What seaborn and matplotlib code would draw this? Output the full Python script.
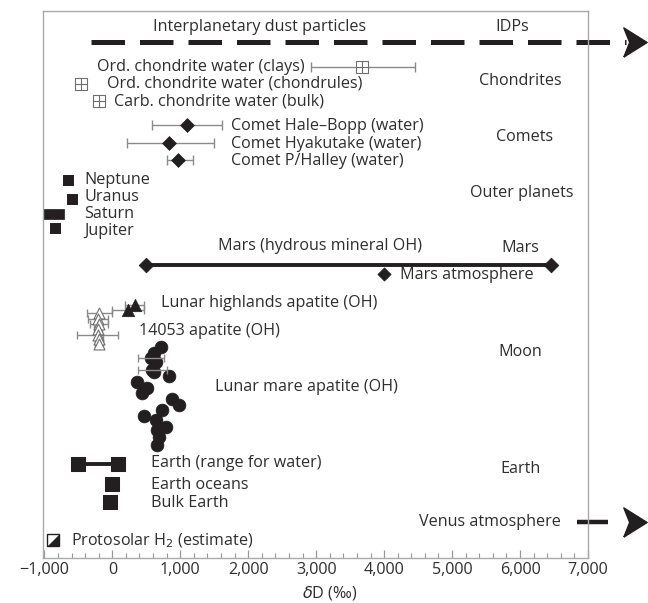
import numpy as np
import pandas as pd
import seaborn as sns
import matplotlib.pyplot as plt
from matplotlib.ticker import MultipleLocator, FuncFormatter

# ---------------- data (δD in ‰) ----------------
# vertical row positions are layout (top = small numbers)
idp_start = -310
idp_row = 42

chond_names = ["Ord. chondrite water (clays)", "Ord. chondrite water (chondrules)",
               "Carb. chondrite water (bulk)"]
chond_dD = [3680, -460, -200]
chond_lo = [2930, np.nan, np.nan]
chond_hi = [4460, np.nan, np.nan]
chond_row = [67, 84, 101]

comet_names = ["Comet Hale–Bopp (water)", "Comet Hyakutake (water)", "Comet P/Halley (water)"]
comet_dD = [1100, 840, 970]
comet_lo = [590, 220, 800]
comet_hi = [1620, 1500, 1180]
comet_row = [125, 143, 160]

planet_names = ["Neptune", "Uranus", "Saturn", "Jupiter"]
planet_min = [-650, -595, -930, -840]
planet_max = [-650, -595, -780, -840]
planet_row = [180, 199, 214, 228]

mars_range = [500, 6450]
mars_row = 265
mars_atm = 4000
mars_atm_row = 274

highland_dD = [230, 330]
highland_err = [230, 140]
highland_row = [310, 305]

a14053_dD = [-190, -210, -200, -205, -215, -200, -200]
a14053_err = [185, 150, 130, 60, 300, 60, 60]
a14053_row = [313, 319, 324, 329, 335, 339, 344]

mare_dD = [722, 619, 574, 648, 589, 619, 840, 368, 515, 442, 884, 987, 736, 471, 648, 795, 663, 692, 663]
mare_err = [0, 0, 190, 0, 210, 0, 0, 0, 0, 0, 0, 0, 0, 0, 0, 0, 0, 0, 0]
mare_row = [347, 353, 358, 362, 370, 372, 376, 382, 388, 393, 399, 405, 410, 416, 420, 427, 430, 437, 445]

earth_range = [-500, 90]
earth_range_row = 464
earth_oceans = 0
earth_oceans_row = 484
bulk_earth = -40
bulk_earth_row = 502

protosolar = -880
protosolar_row = 540

venus_start = 6840
venus_row = 522

group_labels = ["IDPs", "Chondrites", "Comets", "Outer planets", "Mars", "Moon", "Earth"]
group_rows = [27, 81, 137, 193, 248, 352, 469]

xticks = [-1000, 0, 1000, 2000, 3000, 4000, 5000, 6000, 7000]

# ---------------- style ----------------
sns.set_style("white")
plt.rcParams['font.family'] = ['Open Sans', 'DejaVu Sans']
INK = '#231f20'
TXT = '#2e2e2e'
ERR = '#8a8a8a'
FS = 11.6

fig = plt.figure(figsize=(6.48, 6.03), dpi=100)
ax = fig.add_axes([43/648, 1-558/603, 545/648, 547/603])
ax.set_xlim(-1020, 7000)
ax.set_ylim(558, 11)

# IDP dashed line with arrow
ax.plot([idp_start, 7560], [idp_row, idp_row], color=INK, lw=3.6, dashes=(6.7, 3.0),
        solid_capstyle='butt', dash_capstyle='butt', clip_on=False)
arrow = [(-0.8, -1), (0.8, 0), (-0.8, 1), (-0.4, 0), (-0.8, -1)]
ax.plot([7690], [idp_row], marker=arrow, ms=21, color=INK, mec=INK, clip_on=False, ls='none')

# Venus
ax.plot([venus_start, 7300], [venus_row, venus_row], color=INK, lw=3.2, clip_on=False,
        solid_capstyle='butt')
ax.plot([7690], [venus_row], marker=arrow, ms=21, color=INK, mec=INK, clip_on=False, ls='none')

# chondrites
ch = pd.DataFrame({"dD": chond_dD, "row": chond_row, "lo": chond_lo, "hi": chond_hi})
for _, r in ch.dropna().iterrows():
    ax.errorbar(r.dD, r.row, xerr=[[r.dD - r.lo], [r.hi - r.dD]], fmt='none',
                ecolor=ERR, elinewidth=1, capsize=3.5)
sns.scatterplot(data=ch, x="dD", y="row", marker='s', s=68, facecolor='white',
                edgecolor='#6f6f6f', linewidth=0.8, ax=ax, zorder=4)
sns.scatterplot(data=ch, x="dD", y="row", marker='+', s=68, color='#6f6f6f',
                linewidth=0.8, ax=ax, zorder=5)

# comets
cm = pd.DataFrame({"dD": comet_dD, "row": comet_row, "lo": comet_lo, "hi": comet_hi})
ax.errorbar(cm.dD, cm.row, xerr=[cm.dD - cm.lo, cm.hi - cm.dD], fmt='none',
            ecolor=ERR, elinewidth=1, capsize=3.5)
sns.scatterplot(data=cm, x="dD", y="row", marker='D', s=50, color=INK, edgecolor=INK,
                linewidth=0.5, ax=ax, zorder=4)

# outer planets
pl = pd.DataFrame({"mn": planet_min, "mx": planet_max, "row": planet_row})
pts = pd.concat([pl[["mn", "row"]].rename(columns={"mn": "dD"}),
                 pl[["mx", "row"]].rename(columns={"mx": "dD"})])
sns.scatterplot(data=pts, x="dD", y="row", marker='s', s=50, color=INK, edgecolor=INK,
                linewidth=0.5, ax=ax, zorder=4)

# Mars
mars = pd.DataFrame({"dD": mars_range, "row": [mars_row, mars_row]})
sns.lineplot(data=mars, x="dD", y="row", color=INK, lw=2.8, ax=ax, zorder=3)
sns.scatterplot(data=mars, x="dD", y="row", marker='D', s=55, color=INK, edgecolor=INK, ax=ax, zorder=4)
sns.scatterplot(x=[mars_atm], y=[mars_atm_row], marker='D', s=45, color=INK, edgecolor=INK, ax=ax, zorder=4)

# Moon: 14053 apatite (open triangles)
a1 = pd.DataFrame({"dD": a14053_dD, "row": a14053_row, "err": a14053_err})
ax.errorbar(a1.dD, a1.row, xerr=a1.err, fmt='none', ecolor=ERR, elinewidth=1, capsize=3)
sns.scatterplot(data=a1, x="dD", y="row", marker='^', s=62, facecolor='white',
                edgecolor='#6f6f6f', linewidth=0.8, ax=ax, zorder=4)

# highlands (filled triangles)
hl = pd.DataFrame({"dD": highland_dD, "row": highland_row, "err": highland_err})
ax.errorbar(hl.dD, hl.row, xerr=hl.err, fmt='none', ecolor=ERR, elinewidth=1, capsize=3)
sns.scatterplot(data=hl, x="dD", y="row", marker='^', s=80, color=INK, edgecolor=INK,
                linewidth=0.5, ax=ax, zorder=4)

# mare (filled circles)
mr = pd.DataFrame({"dD": mare_dD, "row": mare_row, "err": mare_err})
em = mr[mr.err > 0]
ax.errorbar(em.dD, em.row, xerr=em.err, fmt='none', ecolor=ERR, elinewidth=1, capsize=3, zorder=5)
sns.scatterplot(data=mr, x="dD", y="row", marker='o', s=85, color=INK, edgecolor=INK,
                linewidth=0.5, ax=ax, zorder=4)

# Earth
er = pd.DataFrame({"dD": earth_range, "row": [earth_range_row] * 2})
sns.lineplot(data=er, x="dD", y="row", color=INK, lw=2.8, ax=ax, zorder=3)
sns.scatterplot(data=er, x="dD", y="row", marker='s', s=90, color=INK, edgecolor=INK, ax=ax, zorder=4)
sns.scatterplot(x=[earth_oceans, bulk_earth], y=[earth_oceans_row, bulk_earth_row], marker='s',
                s=90, color=INK, edgecolor=INK, ax=ax, zorder=4)

# Protosolar (half-filled square)
ax.plot([protosolar], [protosolar_row], marker='s', ms=8.5, mfc='white', mec=INK, mew=1, ls='none')
tri = [(1, -1), (1, 1), (-1, -1), (1, -1)]
ax.plot([protosolar], [protosolar_row], marker=tri, ms=8.5, mfc=INK, mec=INK, mew=0, ls='none')

# ---------------- labels ----------------
def lab(x, y, s, ha='left', **kw):
    ax.text(x, y, s, ha=ha, va='center', fontsize=FS, color=TXT, **kw)

lab(2170, 27, "Interplanetary dust particles", ha='center')
lab(2835, chond_row[0], chond_names[0], ha='right')
lab(-80, chond_row[1], chond_names[1])
lab(25, chond_row[2], chond_names[2])
for n, r in zip(comet_names, comet_row):
    lab(1745, r + 1, n)
for n, r in zip(planet_names, [180, 197, 214, 231]):
    lab(-415, r, n)
lab(3055, 246, "Mars (hydrous mineral OH)", ha='center')
lab(4235, 275, "Mars atmosphere")
lab(715, 303, "Lunar highlands apatite (OH)")
lab(390, 331, "14053 apatite (OH)")
lab(1510, 387, "Lunar mare apatite (OH)")
lab(570, 463, "Earth (range for water)")
lab(570, 485, "Earth oceans")
lab(570, 503, "Bulk Earth")
lab(-610, 541, "Protosolar H$_2$ (estimate)")
group_x = [5890, 6000, 6060, 6030, 6000, 6010, 6010]
for g, gx, gy in zip(group_labels, group_x, group_rows):
    lab(gx, gy, g, ha='center')
lab(6600, venus_row, "Venus atmosphere", ha='right')

# ---------------- axes ----------------
ax.set_yticks([])
ax.set_xticks(xticks)
ax.xaxis.set_minor_locator(MultipleLocator(200))
ax.xaxis.set_major_formatter(FuncFormatter(lambda v, p: f"{v:,.0f}".replace("-", "−")))
ax.tick_params(axis='x', which='major', direction='in', length=5.5, width=0.9, color='#999999',
               labelsize=FS, labelcolor=TXT, pad=3, bottom=True)
ax.tick_params(axis='x', which='minor', direction='in', length=3.5, width=0.8, color='#999999',
               bottom=True)
for sp in ax.spines.values():
    sp.set_color('#aaaaaa')
    sp.set_linewidth(1.0)
ax.set_xlabel(r"$\delta$D (‰)", fontsize=FS, color=TXT, labelpad=4)
ax.xaxis.set_label_coords((330 - 43) / 545, -0.047)
ax.set_ylabel("")

fig.savefig("out.png", dpi=100)
